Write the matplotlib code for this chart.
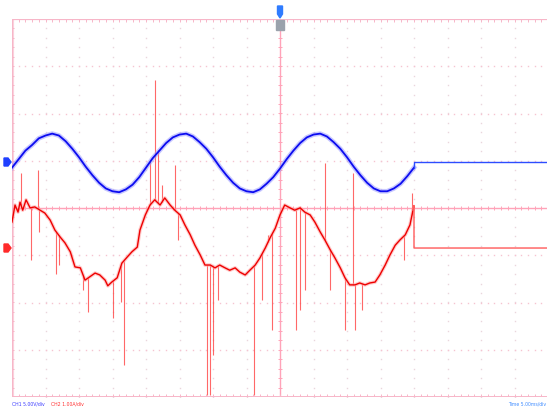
import numpy as np
import matplotlib
matplotlib.use("Agg")
import matplotlib.pyplot as plt
from matplotlib.patches import Polygon, Rectangle

# ---------------- data (read from the screen) ----------------
# CH1 voltage (V), sampled every 1 ms from 0 to 60 ms
ch1_t = list(range(0, 61))
ch1_v = [-0.6, 0.3, 1.2, 1.8, 2.5, 2.8, 3.0, 2.8, 2.2, 1.4,
         0.5, -0.5, -1.4, -2.2, -2.8, -3.1, -3.2, -2.9, -2.4, -1.6,
         -0.6, 0.4, 1.2, 2.0, 2.6, 2.9, 3.0, 2.7, 2.1, 1.4,
         0.5, -0.5, -1.4, -2.2, -2.8, -3.1, -3.2, -2.9, -2.3, -1.6,
         -0.7, 0.3, 1.2, 2.0, 2.6, 2.9, 3.0, 2.7, 2.1, 1.4,
         0.5, -0.5, -1.4, -2.2, -2.8, -3.1, -3.1, -2.8, -2.3, -1.5,
         -0.6]

# CH2 current (A)
ch2_t = [0.0, 0.45, 0.9, 1.2, 1.6, 2.1, 2.7, 3.4, 4.2, 4.9, 5.7, 6.4, 7.2, 7.9,
         8.7, 9.4, 10.2, 10.9, 11.6, 12.4, 13.1, 13.9, 14.3, 14.9, 15.7, 16.4,
         17.2, 17.9, 18.7, 19.1, 19.9, 20.6, 21.3, 22.1, 22.8, 23.6, 24.3, 25.1,
         25.8, 26.6, 27.3, 28.1, 28.8, 29.6, 30.3, 31.0, 31.8, 32.5, 33.3, 34.0,
         34.8, 35.5, 36.3, 37.0, 37.8, 38.5, 39.3, 40.0, 40.7, 41.5, 42.2, 43.0,
         43.7, 44.5, 45.2, 46.0, 46.7, 47.5, 48.2, 49.0, 49.7, 50.4, 51.2, 51.9,
         52.7, 53.4, 54.2, 54.9, 55.7, 56.4, 57.2, 57.9, 58.7, 59.4, 59.85]
ch2_i = [0.55, 0.91, 0.76, 0.97, 0.80, 1.02, 0.85, 0.87, 0.80, 0.74, 0.59, 0.38,
         0.23, 0.11, -0.08, -0.40, -0.42, -0.68, -0.61, -0.53, -0.57, -0.68,
         -0.80, -0.72, -0.63, -0.32, -0.19, -0.08, 0.02, 0.38, 0.70, 0.91, 1.02,
         0.91, 1.06, 0.91, 0.80, 0.70, 0.49, 0.28, 0.06, -0.15, -0.36, -0.36,
         -0.42, -0.36, -0.42, -0.47, -0.42, -0.51, -0.57, -0.47, -0.36, -0.21,
         0.00, 0.21, 0.42, 0.70, 0.91, 0.85, 0.80, 0.85, 0.76, 0.70, 0.55, 0.34,
         0.17, -0.04, -0.21, -0.42, -0.63, -0.78, -0.78, -0.74, -0.78, -0.74,
         -0.72, -0.57, -0.36, -0.15, 0.06, 0.17, 0.28, 0.49, 0.80]

# CH2 glitches: time (ms) and extreme value (A)
spike_t = [1.34, 3.88, 2.84, 4.03, 6.57, 7.01, 10.60, 11.34, 15.07, 16.27, 16.72,
           20.60, 21.34, 21.79, 22.39, 24.33, 24.78, 29.10, 29.55, 30.00, 30.75,
           36.12, 37.31, 38.21, 38.81, 42.39, 42.99, 43.73, 46.72, 47.46, 49.70,
           50.90, 51.19, 52.24, 58.51, 59.70]
spike_i = [1.59, 1.65, -0.25, 0.34, -0.55, -0.36, -0.89, -1.35, -1.48, -1.14, -2.48,
           1.86, 3.56, 2.07, 1.33, 1.76, 0.17, -3.11, -3.11, -2.26, -1.10,
           -3.11, -1.10, 0.28, -1.74, -1.74, -1.31, -0.89, 1.80, -0.89, -1.74,
           1.59, -1.74, -1.31, -0.25, 1.16]

stop_t = 60.0          # acquisition stops here; traces flat afterwards
ch1_scale = 5.0        # V/div
ch2_scale = 1.0        # A/div
time_scale = 5.0       # ms/div
ch1_offset = 0.974     # ground marker position, div
ch2_offset = -0.847
labels = ["CH1 5.00V/div", "CH2 1.00A/div", "Time 5.00ms/div"]

# ---------------- figure ----------------
W, H = 547, 409
fig = plt.figure(figsize=(W / 100, H / 100), dpi=100)
fig.patch.set_facecolor("white")
x0, y0, y1 = 12, 19, 397
div_px = 33.5
ax = fig.add_axes([x0 / W, 1 - y1 / H, (W - x0) / W, (y1 - y0) / H])
ax.set_xlim(0, (W - x0) / div_px * time_scale)
ax.set_ylim(-4, 4)
ax.axis("off")

xmax_full = 16 * time_scale
grid_v = "#ead6dc"
grid_h = "#f5c4d1"
center_c = "#ffa3b8"
# dotted grid
minor_x = np.arange(0, xmax_full + 0.01, time_scale / 5)
minor_y = np.arange(-4, 4.01, 0.2)
for gx in np.arange(time_scale, xmax_full, time_scale):
    if abs(gx - 8 * time_scale) < 1e-6:
        continue
    ax.plot(np.full_like(minor_y, gx), minor_y, ls="none", marker="s",
            ms=1.0, mew=0, color=grid_v, zorder=1)
for gy in np.arange(-3, 4, 1):
    if gy == 0:
        continue
    ax.plot(minor_x, np.full_like(minor_x, gy), ls="none", marker="s",
            ms=1.0, mew=0, color=grid_h, zorder=1)
# centre lines with ticks
ax.axhline(0, color=center_c, lw=1.0, zorder=1)
ax.axvline(8 * time_scale, color=center_c, lw=1.0, zorder=1)
tkx = 0.07 * time_scale
ax.vlines(minor_x, -0.05, 0.05, color=center_c, lw=0.7, zorder=1)
ax.hlines(minor_y, 8 * time_scale - tkx, 8 * time_scale + tkx, color=center_c, lw=0.7, zorder=1)
# border
border_c = "#f7b6c8"
ax.plot([0, 0], [-4, 4], color="#fbd6e0", lw=3.0, zorder=1, solid_capstyle="butt")
ax.plot([0, 0], [-4, 4], color=border_c, lw=0.9, zorder=1)
ax.axhline(4, color=border_c, lw=1.6, zorder=1)
ax.axhline(-4, color=border_c, lw=1.4, zorder=1)
ax.vlines(minor_x, 3.93, 4, color=border_c, lw=0.7, zorder=1)
ax.vlines(minor_x, -4, -3.93, color=border_c, lw=0.7, zorder=1)
ax.hlines(minor_y, 0, tkx, color=border_c, lw=0.7, zorder=1)

# ---------------- traces ----------------
c1 = np.array(ch1_v) / ch1_scale + ch1_offset
ax.plot(ch1_t, c1, color="#9a9aff", lw=3.4, alpha=0.55, zorder=3, solid_joinstyle="round")
ax.plot(ch1_t, c1, color="#0c0cf0", lw=1.3, zorder=4)
ax.plot([stop_t, stop_t, xmax_full], [c1[-1], ch1_offset, ch1_offset],
        color="#2d4dff", lw=1.0, zorder=4)

c2 = np.array(ch2_i) / ch2_scale + ch2_offset
s_base = np.interp(spike_t, ch2_t, ch2_i) / ch2_scale + ch2_offset
s_end = np.array(spike_i) / ch2_scale + ch2_offset
ax.vlines(spike_t, s_base, s_end, color="#ff4d4d", lw=0.8, alpha=0.85, zorder=2)
ax.plot(ch2_t, c2, color="#ffa0a0", lw=2.6, alpha=0.55, zorder=3)
ax.plot(ch2_t, c2, color="#ee0000", lw=1.0, zorder=4)
ax.plot([ch2_t[-1], stop_t, stop_t, xmax_full], [c2[-1], c2[-1] + 0.1, ch2_offset, ch2_offset],
        color="#ff5a5a", lw=1.0, zorder=4)

# ---------------- markers & labels (figure pixel coords) ----------------
def fx(px):
    return px / W

def fy(py):
    return 1 - py / H

# channel ground markers
for py, col, lab in [(162, "#1f3fff", "1"), (248, "#ff2a2a", "2")]:
    poly = Polygon([(fx(4), fy(py - 4)), (fx(8), fy(py - 4)), (fx(11), fy(py)),
                    (fx(8), fy(py + 4)), (fx(4), fy(py + 4))],
                   closed=True, transform=fig.transFigure, color=col, zorder=10)
    fig.add_artist(poly)
    fig.text(fx(7), fy(py), lab, color="white", fontsize=4.2, fontweight="bold",
             ha="center", va="center", family="DejaVu Sans")

# trigger position marker
trig = Polygon([(fx(277.5), fy(6)), (fx(282.5), fy(6)), (fx(282.5), fy(14)), (fx(280), fy(18)),
                (fx(277.5), fy(14))], closed=True, transform=fig.transFigure,
               color="#2f7cff", zorder=10)
fig.add_artist(trig)
fig.add_artist(Rectangle((fx(276), fy(30)), 8 / W, 10 / H, transform=fig.transFigure,
                         color="#9aa2ac", zorder=10))
fig.text(fx(280), fy(25), "T", color="#2f6cff", fontsize=5, ha="center", va="center",
         fontweight="bold")

fig.text(fx(12), fy(404), labels[0], color="#3a3aff", fontsize=3.3, ha="left", va="center")
fig.text(fx(51), fy(404), labels[1], color="#ff3030", fontsize=3.3, ha="left", va="center")
fig.text(fx(546), fy(404), labels[2], color="#3f8cff", fontsize=3.3, ha="right", va="center")

fig.savefig("out.png", dpi=100, facecolor="white")
